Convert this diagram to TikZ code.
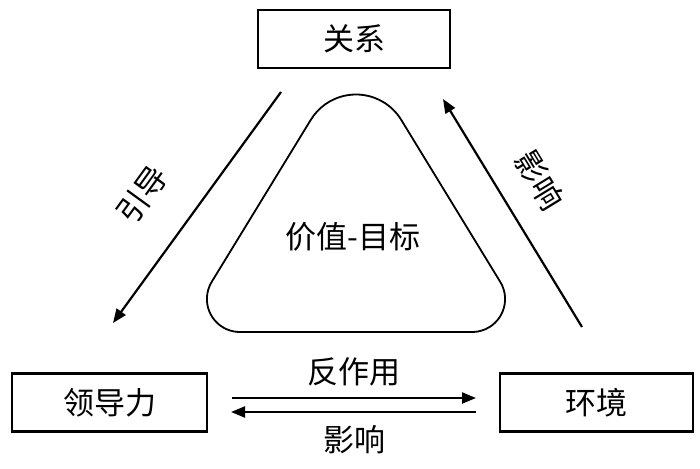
\documentclass[tikz,border=0pt]{standalone}
\usepackage{fontspec}
\newfontfamily\cjk{Noto Sans CJK SC}
\usetikzlibrary{arrows.meta}
\begin{document}
\begin{tikzpicture}[x=1pt,y=1pt,
  box/.style={draw,line width=2.5pt,minimum height=58pt,inner sep=0pt},
  txt/.style={font=\cjk\fontsize{31}{34}\selectfont,inner sep=0pt},
  arr/.style={line width=2.2pt,-{Triangle[length=14pt,width=11pt]}}]
\useasboundingbox (0,0) rectangle (700,468);
% boxes
\node[box,minimum width=192pt] (rel) at (354,429) {};
\node[txt] at (rel) {关系};
\node[box,minimum width=195pt] (lead) at (109.5,65.5) {};
\node[txt] at (lead) {领导力};
\node[box,minimum width=193pt] (env) at (596.5,65.5) {};
\node[txt] at (env) {环境};
% rounded triangle
\draw[line width=1.8pt] (310.8,348.2) arc[start angle=148.5,end angle=31.5,radius=53pt]
  -- (500.2,186.2) arc[start angle=31.5,end angle=-90,radius=33pt]
  -- (239.9,136) arc[start angle=270,end angle=148.5,radius=33pt] -- cycle;
\node[txt] (core) at (353,231) {价值-目标};
% arrow end points
\coordinate (l1) at (281,376);
\coordinate (l2) at (113,145);
\coordinate (r1) at (582,141);
\coordinate (r2) at (443,369);
\coordinate (h1) at (232,70);
\coordinate (h2) at (476,70);
\coordinate (h3) at (476,56);
\coordinate (h4) at (231,56);
\draw[arr] (l1) -- (l2);
\draw[arr] (r1) -- (r2);
\draw[arr] (h1) -- (h2);
\draw[arr] (h3) -- (h4);
% labels
\node[txt,rotate=54] (lbl1) at (142,273) {引导};
\node[txt,rotate=-58.6] (lbl2) at (540,288) {影响};
\node[txt] (lbl3) at (354,96) {反作用};
\node[txt] (lbl4) at (354,28) {影响};
\end{tikzpicture}
\end{document}
